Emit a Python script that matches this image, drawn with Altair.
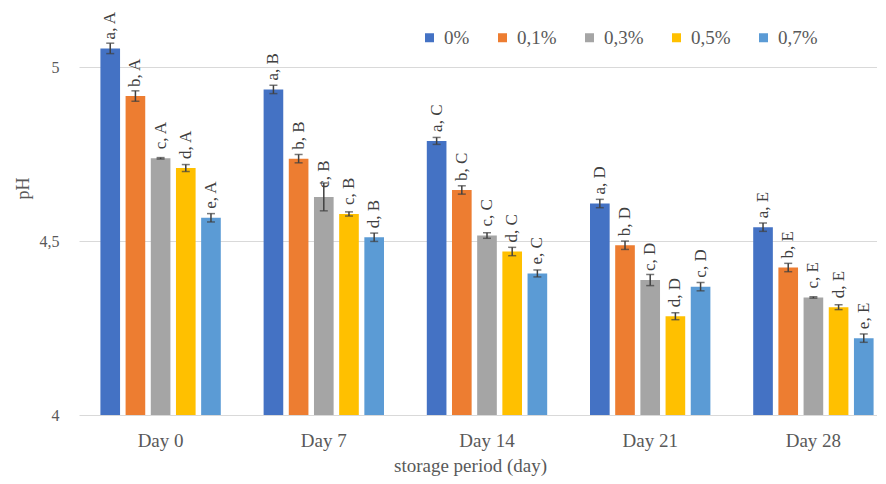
import altair as alt
import pandas as pd

days = ["Day 0", "Day 7", "Day 14", "Day 21", "Day 28"]
conc = ["0%", "0,1%", "0,3%", "0,5%", "0,7%"]
colors = ["#4472C4", "#ED7D31", "#A5A5A5", "#FFC000", "#5B9BD5"]

ph_0 = [5.054, 4.936, 4.788, 4.608, 4.540]
ph_01 = [4.917, 4.737, 4.647, 4.488, 4.424]
ph_03 = [4.738, 4.627, 4.516, 4.388, 4.338]
ph_05 = [4.710, 4.578, 4.470, 4.284, 4.310]
ph_07 = [4.567, 4.511, 4.407, 4.369, 4.221]

err_0 = [0.015, 0.012, 0.010, 0.012, 0.012]
err_01 = [0.015, 0.012, 0.012, 0.012, 0.012]
err_03 = [0.002, 0.040, 0.008, 0.016, 0.002]
err_05 = [0.010, 0.006, 0.012, 0.010, 0.007]
err_07 = [0.012, 0.012, 0.010, 0.012, 0.012]

lab_0 = ["a, A", "a, B", "a, C", "a, D", "a, E"]
lab_01 = ["b, A", "b, B", "b, C", "b, D", "b, E"]
lab_03 = ["c, A", "c, B", "c, C", "c, D", "c, E"]
lab_05 = ["d, A", "c, B", "d, C", "d, D", "d, E"]
lab_07 = ["e, A", "d, B", "e, C", "c, D", "e, E"]

series = [
    (conc[0], ph_0, err_0, lab_0),
    (conc[1], ph_01, err_01, lab_01),
    (conc[2], ph_03, err_03, lab_03),
    (conc[3], ph_05, err_05, lab_05),
    (conc[4], ph_07, err_07, lab_07),
]
rows = []
for c, vals, errs, labs in series:
    for d, v, e, l in zip(days, vals, errs, labs):
        rows.append({"day": d, "conc": c, "ph": v, "lo": v - e, "hi": v + e, "lab": l})
df = pd.DataFrame(rows)

FONT = "Liberation Serif"
GRAY = "#595959"

x_enc = alt.X(
    "day:N", sort=days,
    scale=alt.Scale(range=[0, 816], paddingInner=0, paddingOuter=0),
    axis=alt.Axis(title="storage period (day)", labelAngle=0, domain=False, ticks=False,
                  tickSize=0, labelPadding=16, titlePadding=6, labelFont=FONT, titleFont=FONT,
                  labelFontSize=19, titleFontSize=19, labelColor=GRAY, titleColor=GRAY,
                  titleFontWeight="normal", titleX=391),
)
xo_enc = alt.XOffset("conc:N", sort=conc, scale=alt.Scale(paddingInner=0.22, paddingOuter=0.85))
y_scale = alt.Scale(domain=[4, 5.15], zero=False, nice=False)

base = alt.Chart(df)

bars = base.mark_bar().encode(
    x=x_enc, xOffset=xo_enc,
    y=alt.Y("ph:Q", scale=y_scale,
            axis=alt.Axis(values=[4, 4.5, 5], title="pH",
                          labelExpr="replace(toString(datum.value), '.', ',')",
                          domain=False, ticks=False, tickSize=0, labelPadding=20,
                          gridColor="#D9D9D9", gridWidth=1,
                          labelFont=FONT, titleFont=FONT, labelFontSize=16, titleFontSize=18,
                          labelColor=GRAY, titleColor=GRAY, titleFontWeight="normal",
                          titleAngle=270, titleX=-56, titleY=173, titleAlign="center",
                          titleBaseline="middle")),
    y2=alt.datum(4),
    color=alt.Color("conc:N", sort=conc, scale=alt.Scale(domain=conc, range=colors),
                    legend=alt.Legend(title=None, orient="none", legendX=341, legendY=13,
                                      direction="horizontal", symbolType="square",
                                      symbolSize=81, symbolStrokeWidth=0,
                                      labelFont=FONT,
                                      labelFontSize=19, labelColor=GRAY, columnPadding=23,
                                      labelOffset=5, padding=0)),
)

rules = base.mark_rule(color="#404040", strokeWidth=1.5).encode(
    x=x_enc, xOffset=xo_enc, y=alt.Y("lo:Q", scale=y_scale), y2="hi:Q"
)
cap_hi = base.mark_tick(orient="horizontal", size=8, thickness=1.5, color="#404040").encode(
    x=x_enc, xOffset=xo_enc, y=alt.Y("hi:Q", scale=y_scale)
)
cap_lo = base.mark_tick(orient="horizontal", size=8, thickness=1.5, color="#404040").encode(
    x=x_enc, xOffset=xo_enc, y=alt.Y("lo:Q", scale=y_scale)
)
labels = base.mark_text(angle=270, align="left", baseline="middle", dx=9, font=FONT,
                        fontSize=17, color="#404040").encode(
    x=x_enc, xOffset=xo_enc, y=alt.Y("ph:Q", scale=y_scale), text="lab:N"
)

chart = alt.layer(bars, rules, cap_hi, cap_lo, labels).properties(
    width=798, height=400,
    padding={"left": 71, "top": 7, "right": 0, "bottom": 61},
    autosize=alt.AutoSizeParams(type="none"),
).configure(
    font=FONT,
).configure_view(stroke=None).configure_axis(grid=True).configure_axisX(
    grid=False
)

chart.save("out.html", embed_options={"renderer": "svg", "actions": False})
